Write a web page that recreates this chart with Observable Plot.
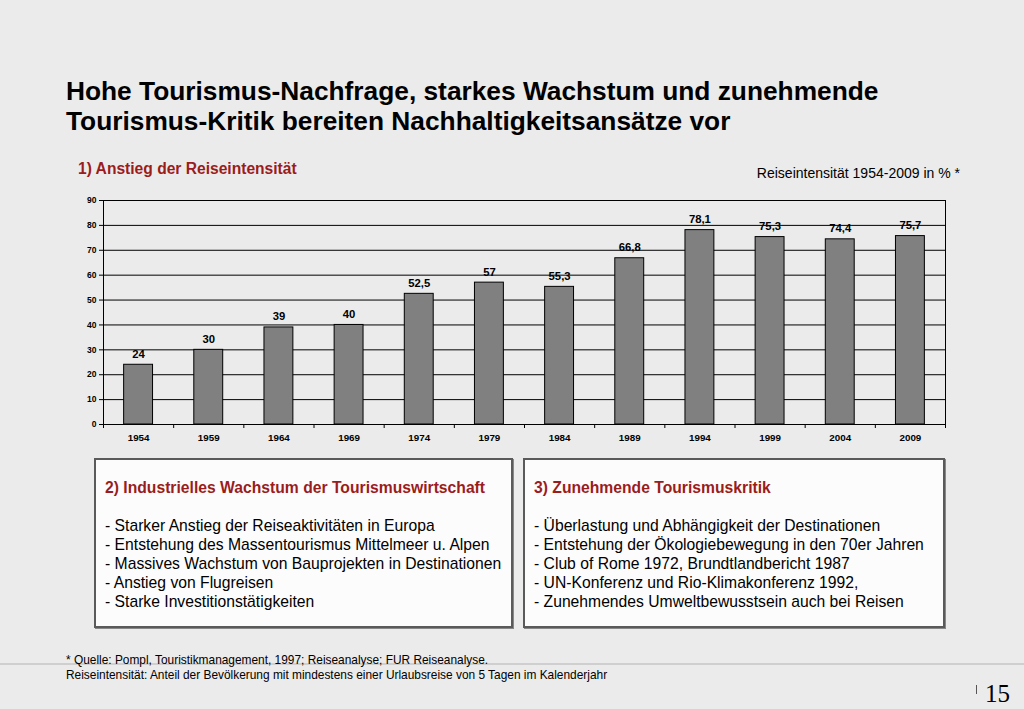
<!DOCTYPE html>
<html>
<head>
<meta charset="utf-8">
<script src="https://cdn.jsdelivr.net/npm/d3@7"></script>
<script src="https://cdn.jsdelivr.net/npm/@observablehq/plot@0.6"></script>
<style>
  html, body { margin: 0; padding: 0; }
  body { width: 1024px; height: 709px; background: #ebebeb; position: relative; overflow: hidden; font-family: "Liberation Sans", Arial, sans-serif; color: #000; }
  .abs { position: absolute; white-space: nowrap; }
  #title { left: 66px; top: 76px; font-size: 26.3px; font-weight: bold; line-height: 30px; }
  #sub { left: 78px; top: 160px; font-size: 15.6px; font-weight: bold; color: #9b1c1c; }
  #unit { right: 64px; top: 165px; font-size: 14px; }
  #chart { left: 60px; top: 190px; }
  .box { position: absolute; top: 458px; height: 170px; background: #fcfcfc; border: 2px solid #5a5a5a; box-shadow: 1px 1px 0 #888; box-sizing: border-box; padding: 18px 0 0 9px; }
  .box h3 { margin: 0 0 18px 0; font-size: 15.7px; font-weight: bold; color: #9b1c1c; line-height: 20px; }
  .box div { font-size: 15.7px; line-height: 19px; white-space: nowrap; }
  #box1 { left: 94px; width: 419px; }
  #box2 { left: 523px; width: 422px; }
  #sep { left: 0; top: 663px; width: 1024px; height: 2px; background: #cfcfcf; }
  #foot { left: 66px; top: 653px; font-size: 11.9px; line-height: 15px; }
  #pg { left: 985px; top: 681px; font-family: "Liberation Serif", "DejaVu Serif", serif; font-size: 25px; line-height: 26px; }
  #pgbar { left: 976px; top: 685px; width: 1px; height: 9px; background: #555; }
</style>
</head>
<body>
<div id="title" class="abs">Hohe Tourismus-Nachfrage, starkes Wachstum und zunehmende<br>Tourismus-Kritik bereiten Nachhaltigkeitsansätze vor</div>
<div id="sub" class="abs">1) Anstieg der Reiseintensität</div>
<div id="unit" class="abs">Reiseintensität 1954-2009 in % *</div>
<div id="chart" class="abs"></div>
<div id="box1" class="box"><h3>2) Industrielles Wachstum der Tourismuswirtschaft</h3><div id="list1"></div></div>
<div id="box2" class="box"><h3>3) Zunehmende Tourismuskritik</h3><div id="list2"></div></div>
<div id="sep" class="abs"></div>
<div id="foot" class="abs">* Quelle: Pompl, Touristikmanagement, 1997; Reiseanalyse; FUR Reiseanalyse.<br>Reiseintensität: Anteil der Bevölkerung mit mindestens einer Urlaubsreise von 5 Tagen im Kalenderjahr</div>
<div id="pgbar" class="abs"></div>
<div id="pg" class="abs">15</div>
<script>
const years = [1954, 1959, 1964, 1969, 1974, 1979, 1984, 1989, 1994, 1999, 2004, 2009];
const values = [24, 30, 39, 40, 52.5, 57, 55.3, 66.8, 78.1, 75.3, 74.4, 75.7];
const yTicks = [0, 10, 20, 30, 40, 50, 60, 70, 80, 90];
const list1 = [
  "- Starker Anstieg der Reiseaktivitäten in Europa",
  "- Entstehung des Massentourismus Mittelmeer u. Alpen",
  "- Massives Wachstum von Bauprojekten in Destinationen",
  "- Anstieg von Flugreisen",
  "- Starke Investitionstätigkeiten"
];
const list2 = [
  "- Überlastung und Abhängigkeit der Destinationen",
  "- Entstehung der Ökologiebewegung in den 70er Jahren",
  "- Club of Rome 1972, Brundtlandbericht 1987",
  "- UN-Konferenz und Rio-Klimakonferenz 1992,",
  "- Zunehmendes Umweltbewusstsein auch bei Reisen"
];

document.getElementById("list1").innerHTML = list1.map(s => `<div>${s}</div>`).join("");
document.getElementById("list2").innerHTML = list2.map(s => `<div>${s}</div>`).join("");

const step = 5;
const halfBar = 1.03;
const data = years.map((y, i) => ({year: y, value: values[i], label: String(values[i]).replace(".", ",")}));
const boundaries = years.map(y => y - step / 2).concat([years[years.length - 1] + step / 2]);

const chart = Plot.plot({
  width: 900,
  height: 260,
  marginLeft: 43,
  marginRight: 15,
  marginTop: 10,
  marginBottom: 26,
  style: {background: "transparent", fontFamily: "Liberation Sans, Arial, sans-serif", color: "#000"},
  x: {domain: [boundaries[0], boundaries[boundaries.length - 1]], label: null},
  y: {domain: [0, 90], label: null},
  marks: [
    Plot.gridY(yTicks, {stroke: "#000", strokeOpacity: 1, strokeWidth: 1}),
    Plot.rectY(data, {x1: d => d.year - halfBar, x2: d => d.year + halfBar, y: "value", fill: "#808080", stroke: "#000", strokeWidth: 1}),
    Plot.frame({stroke: "#000", strokeWidth: 1}),
    Plot.axisY(yTicks, {tickSize: 4, tickPadding: 3, fontSize: 8.5, fontWeight: "bold", tickFormat: d => String(d), stroke: "#000", label: null}),
    Plot.axisX(boundaries, {tickSize: 4, tickFormat: () => "", stroke: "#000", label: null}),
    Plot.axisX(years, {tickSize: 0, tickPadding: 10, fontSize: 9.8, fontWeight: "bold", tickFormat: d => String(d), label: null}),
    Plot.text(data, {x: "year", y: "value", text: "label", lineAnchor: "bottom", dy: -7, fontSize: 11.3, fontWeight: "bold", fill: "#000"})
  ]
});
document.getElementById("chart").appendChild(chart);
</script>
</body>
</html>
